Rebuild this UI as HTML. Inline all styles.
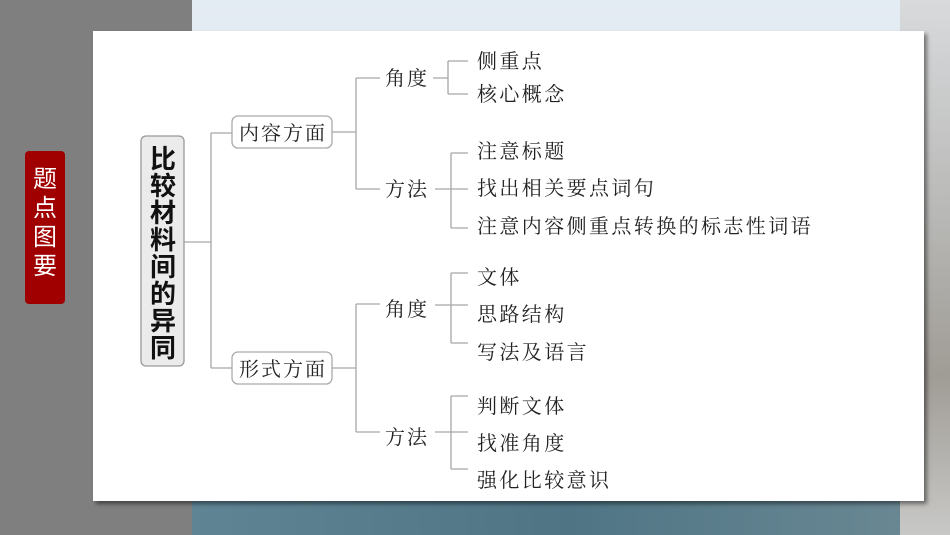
<!DOCTYPE html>
<html><head><meta charset="utf-8"><style>
html,body{margin:0;padding:0;width:950px;height:535px;overflow:hidden}
body{position:relative;background:#dfe7ef}
.gray{position:absolute;left:0;top:0;width:192px;height:535px;background:#7f7f7f}
.sky{position:absolute;left:192px;top:0;width:758px;height:535px;background:linear-gradient(#e3ebf3,#eef2f6 60%,#d5dde3)}
.water{position:absolute;left:192px;top:500px;width:758px;height:35px;background:linear-gradient(90deg,#5f8595,#4f7585 50%,#6d8a95)}
.trees{position:absolute;left:900px;top:0;width:50px;height:535px;background:linear-gradient(#d8dadc,#b8b8b6 40%,#a09c96 70%,#c8c8c6)}
.card{position:absolute;left:93px;top:31px;width:831px;height:470px;background:#fff;box-shadow:3px 3px 4px rgba(0,0,0,.45)}
.badge{position:absolute;left:25px;top:151px;width:40px;height:153px;background:#a00000;border-radius:4px;color:#fff;font:24px "Liberation Sans","Noto Sans CJK SC",sans-serif;line-height:29px;text-align:center;padding-top:14px;box-sizing:border-box}
svg{position:absolute;left:0;top:0}
</style></head><body>
<div class="gray"></div><div class="sky"></div><div class="water"></div><div class="trees"></div>
<div class="card"></div>
<div class="badge">题<br>点<br>图<br>要</div>
<svg width="950" height="535" font-family="'Liberation Serif','Noto Serif CJK SC',serif">
<g stroke="#a6a6a6" stroke-width="1.3" fill="none">
<rect x="141" y="136" width="43" height="230" rx="5" fill="#ebebeb" stroke="#999"/>
<rect x="232" y="116" width="100" height="32" rx="6" fill="#fff" stroke="#aaa"/>
<rect x="232" y="352" width="100" height="32" rx="6" fill="#fff" stroke="#aaa"/>
<path d="M184 242H211M211 133V368M211 133H232M211 368H232"/>
<path d="M332 132H356M356 78V189M356 78H380M356 189H380"/>
<path d="M332 368H356M356 304V432M356 304H380M356 432H380"/>
<path d="M433 78H448M448 61V94M448 61H468M448 94H468"/>
<path d="M435 189H468M451 153V228M451 153H468M451 228H468"/>
<path d="M435 305H468M451 273V343M451 273H468M451 343H468"/>
<path d="M435 432H468M451 396V469M451 396H468M451 469H468"/>
</g>
<g font-family="'Liberation Sans','Noto Sans CJK SC',sans-serif" font-size="26" font-weight="bold" fill="#111" text-anchor="middle">
<text x="163" y="168">比</text><text x="163" y="195">较</text><text x="163" y="222">材</text><text x="163" y="249">料</text><text x="163" y="276">间</text><text x="163" y="303">的</text><text x="163" y="330">异</text><text x="163" y="357">同</text>
</g>
<g font-size="20" fill="#222" letter-spacing="2">
<text x="239" y="140">内容方面</text>
<text x="239" y="376">形式方面</text>
<text x="385" y="85">角度</text>
<text x="385" y="196">方法</text>
<text x="385" y="316">角度</text>
<text x="385" y="444">方法</text>
</g>
<g font-size="20" fill="#222" letter-spacing="2.4">
<text x="477" y="68">侧重点</text>
<text x="477" y="101">核心概念</text>
<text x="477" y="158">注意标题</text>
<text x="477" y="195">找出相关要点词句</text>
<text x="477" y="233">注意内容侧重点转换的标志性词语</text>
<text x="477" y="284">文体</text>
<text x="477" y="321">思路结构</text>
<text x="477" y="359">写法及语言</text>
<text x="477" y="413">判断文体</text>
<text x="477" y="450">找准角度</text>
<text x="477" y="487">强化比较意识</text>
</g>
</svg>
</body></html>
